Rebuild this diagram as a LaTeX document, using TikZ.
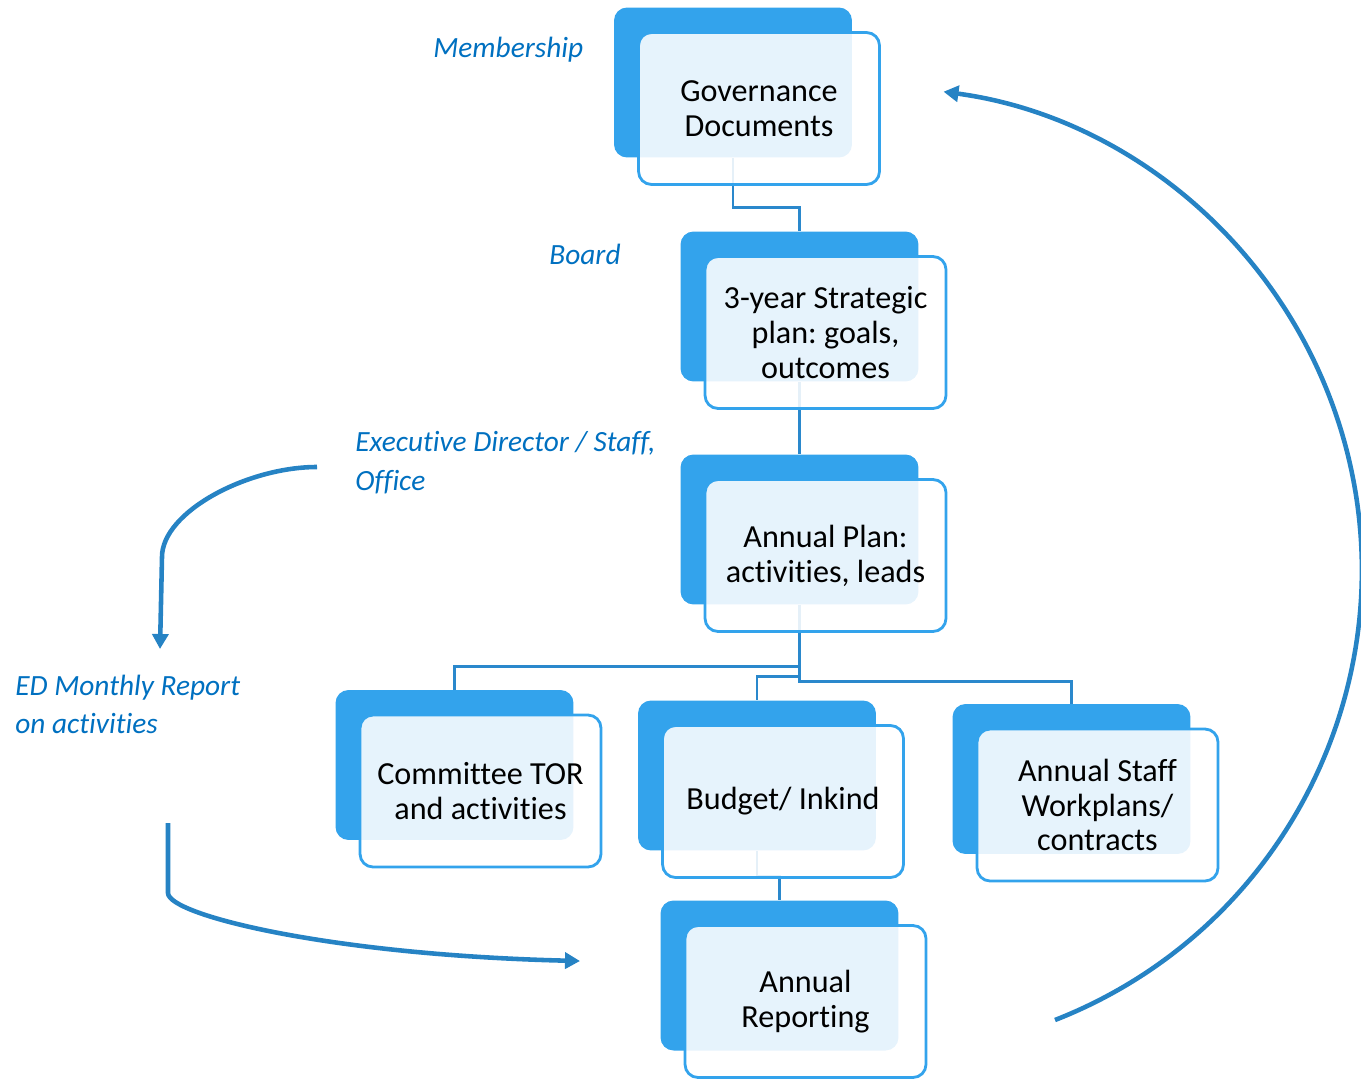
\documentclass[tikz,border=0pt]{standalone}
\usepackage{fontspec}
\setmainfont{Carlito}[Ligatures=NoCommon]
\usepackage{tikz}
\usetikzlibrary{arrows.meta,positioning}
\definecolor{boxblue}{HTML}{33A3EC}
\definecolor{linkblue}{HTML}{2A88CC}
\definecolor{loopblue}{HTML}{2683C4}
\definecolor{roleblue}{HTML}{0070C0}
\frenchspacing

\begin{document}
\begin{tikzpicture}[x=0.02cm,y=-0.02cm]

\tikzset{back/.style={
  rectangle,
  inner sep=0pt,
  rounded corners=0.26cm,
  fill=boxblue,
  minimum width=4.76cm,
  minimum height=3cm
  },
  front/.style={
  rectangle,
  inner sep=0pt,
  rounded corners=0.26cm,
  align=center,
  draw=boxblue, line width=1.6pt,
  fill=white, fill opacity=0.88, text opacity=1,
  minimum width=4.82cm,
  minimum height=3.04cm,
  font=\fontsize{18.3}{19.8}\selectfont
  },
  role/.style={anchor=west, align=left, inner sep=0pt, text=roleblue,
  font=\fontsize{16.7}{22}\selectfont\itshape},
  link/.style={draw=linkblue, line width=1.6pt},
  loop/.style={draw=loopblue, line width=2.6pt, -{Triangle[length=0.3cm,width=0.32cm]}}
}

\useasboundingbox (0,0) rectangle (1361,1078);

% back plates
\node[back] (govb) at (733,82.5) {};
\node[back] (stratb) at (799.5,306.5) {};
\node[back] (planb) at (799.5,529.5) {};
\node[back] (cttb) at (454.5,765) {};
\node[back] (budgetb) at (757,775.5) {};
\node[back] (staffb) at (1071.5,779) {};
\node[back] (reportb) at (779.5,975.5) {};

% tree links
\path[link] (govb.south) -- ++(0,50) -| (stratb.north);
\path[link] (stratb.south) -- (planb.north);
\path[link] (planb.south) -- ++(0,62) -| (cttb.north);
\path[link] (planb.south) -- ++(0,72) -| (budgetb.north);
\path[link] (planb.south) -- ++(0,77) -| (staffb.north);
\path[link] (budgetb.south) -- ++(0,26) -| (reportb.north);

% front cards
\node[front] (gov) at ([shift={(26,26)}]govb) {Governance\\Documents};
\node[front] (strat) at ([shift={(26,26)}]stratb) {3-year Strategic\\plan: goals,\\outcomes};
\node[front] (plan) at ([shift={(26,26)}]planb) {Annual Plan:\\activities, leads};
\node[front] (ctt) at ([shift={(26,26)}]cttb) {Committee TOR\\and activities};
\node[front] (budget) at ([shift={(26,26)}]budgetb) {Budget/ Inkind};
\node[front] (staff) at ([shift={(26,26)}]staffb) {Annual Staff\\Workplans/\\contracts};
\node[front] (report) at ([shift={(26,26)}]reportb) {Annual\\Reporting};

% who does what
\node[role] (memb) at (433,50) {Membership};
\node[role] (board) at (549,254) {Board};
\node[role] (exec) at (355,462.5) {Executive Director / Staff,\\Office};
\node[role] (edrep) at (15,704.5) {ED Monthly Report\\on activities};

% loops
\coordinate (edout) at (317,467);
\coordinate (rptout) at (168,823);
\coordinate (fbout) at (1055,1020);
\path[loop] (edout) .. controls (247,467) and (162,512) .. (162,557) -- (160,649);
\path[loop] (rptout) -- (168,893) .. controls (168,915) and (330,955) .. (580,961);
\path[loop] (fbout) arc[start angle=68.6, end angle=-82.3, radius=483];
\end{tikzpicture}
\end{document}
